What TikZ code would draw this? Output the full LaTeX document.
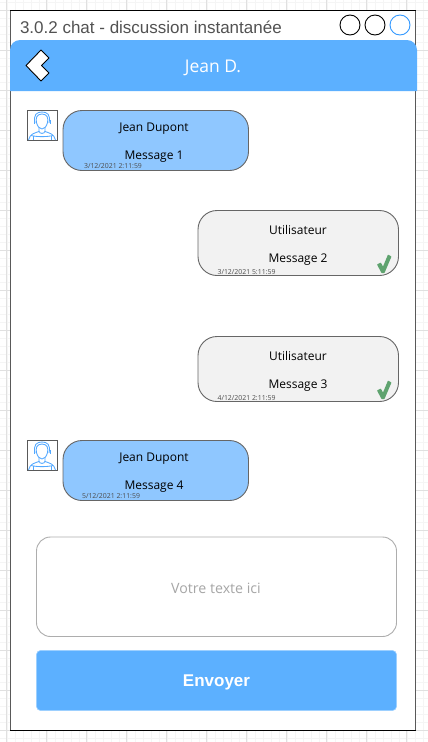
\documentclass[tikz,border=0pt]{standalone}
\usepackage{fontspec}
\setmainfont{Open Sans}
\newfontfamily\lib{Liberation Sans}
\definecolor{hdr}{HTML}{5CB0FF}
\definecolor{bub}{HTML}{8FC7FF}
\definecolor{gbub}{HTML}{F2F2F2}
\definecolor{icon}{HTML}{3399FF}
\definecolor{chk}{HTML}{5FA36F}
\newcommand{\fsz}[1]{\fontsize{#1}{#1}\selectfont}
\tikzset{
 x=1pt,y=-1pt,
 px/.style={inner sep=0pt,outer sep=0pt},
 bubble/.style={draw=black!60,line width=0.9pt,rounded corners=19pt},
 msg/.style={px,anchor=base,text=black,font=\fsz{12}},
 stamp/.style={px,anchor=base,text=black!70,font=\fsz{6.9}},
 ring/.style={draw=#1,line width=0.9pt,circle,minimum size=20pt,px},
 avatarbox/.style={draw=black!65,fill=white,line width=0.9pt},
 iconline/.style={draw=icon!85,line width=0.85pt,fill=none},
}
\newcommand{\avatar}[2]{%
 \begin{scope}[shift={(#1,#2)}]
  \path[avatarbox] (0,0) rectangle (30,30);
  \draw[iconline] (15,3.5) .. controls (9.5,3.5) and (8.5,8) .. (9.5,12) .. controls (10.5,16) and (12.5,18.5) .. (15,18.5) .. controls (17.5,18.5) and (19.5,16) .. (20.5,12) .. controls (21.5,8) and (20.5,3.5) .. (15,3.5);
  \draw[iconline] (8,12.5) .. controls (6,4) and (10,1.5) .. (15,1.5) .. controls (20,1.5) and (24,4) .. (22,12.5);
  \draw[iconline] (7,9.5) -- (7,13.5) (23,9.5) -- (23,13.5);
  \draw[iconline] (12,17.5) -- (12,21) .. controls (8,22.5) and (3,23) .. (1.5,29.5);
  \draw[iconline] (18,17.5) -- (18,21) .. controls (22,22.5) and (27,23) .. (28.5,29.5);
  \draw[iconline] (12,21) .. controls (13,23.5) and (17,23.5) .. (18,21);
  \draw[iconline] (6,25) -- (6,29.5) (24,25) -- (24,29.5);
  \draw[iconline] (4,25) .. controls (10,26.5) and (20,26.5) .. (26,25);
 \end{scope}}
\newcommand{\tickmark}[1]{%
 \fill[chk,shift={(0,#1)},rounded corners=0.5pt] (377,264.5) -- (380.8,262.5) -- (383,266.5) -- (388,254.5) -- (391.5,256.5) -- (384.5,273) -- (381.5,273) -- cycle;}
\begin{document}
\begin{tikzpicture}
\useasboundingbox (0,0) rectangle (428,742);
\fill[white] (0,0) rectangle (428,742);
% background grid
\foreach \i in {0,...,53} \draw[black!4,line width=0.4pt] (6.7+\i*8,0) -- (6.7+\i*8,742);
\foreach \i in {0,...,93} \draw[black!4,line width=0.4pt] (0,2+\i*8) -- (428,2+\i*8);
\foreach \i in {0,...,10} \draw[black!12,line width=0.5pt] (6.7+\i*40,0) -- (6.7+\i*40,742);
\foreach \i in {0,...,18} \draw[black!12,line width=0.5pt] (0,10+\i*40) -- (428,10+\i*40);
% frame
\path[fill=white] (10.5,10.5) rectangle (415,730);
\draw[black!65,line width=1pt] (10.5,10.5) -- (10.5,730) (415,10.5) -- (415,730);
\draw[black,line width=1pt] (10,10.5) -- (415.5,10.5) (10,730) -- (415.5,730);
\node[px,anchor=base west,text=black!68,font=\lib\fsz{17}] (title) at (20,33.5) {3.0.2 chat - discussion instantanée};
\node[ring=black] (c1) at (350,25) {};
\node[ring=black] (c2) at (375,25) {};
\node[ring=icon] (c3) at (400,25) {};
% header
\fill[hdr] (10,91) [rounded corners=10pt] -- (10,40) -- (417,40) [sharp corners] -- (417,91) -- cycle;
\node[px,anchor=base,text=white,font=\fsz{17.5}] (head) at (213,72.5) {Jean D.};
\draw[fill=white,draw=black,line width=0.9pt,line join=round] (26,65.5) -- (41,50) -- (49,58) -- (41.5,65.5) -- (49,73) -- (41,81) -- cycle;
% avatars
\avatar{27}{110.5}
\avatar{27}{440.5}
% bubbles
\path[bubble,fill=bub] (63,110.5) rectangle (248.5,170.5);
\node[msg] (m1a) at (154,131.5) {Jean Dupont};
\node[msg] (m1b) at (154,159.5) {Message 1};
\node[stamp] (m1c) at (113,168) {3/12/2021 2:11:59};
\path[bubble,fill=gbub] (198,210.5) rectangle (398.5,275.5);
\node[msg] (m2a) at (298,234.5) {Utilisateur};
\node[msg] (m2b) at (298,262.5) {Message 2};
\node[stamp] (m2c) at (246.5,274) {3/12/2021 5:11:59};
\tickmark{0}
\path[bubble,fill=gbub] (198,336.5) rectangle (398.5,401.5);
\node[msg] (m3a) at (298,360.5) {Utilisateur};
\node[msg] (m3b) at (298,388.5) {Message 3};
\node[stamp] (m3c) at (246.5,400) {4/12/2021 2:11:59};
\tickmark{126}
\path[bubble,fill=bub] (63,440.5) rectangle (248.5,500.5);
\node[msg] (m4a) at (154,461.5) {Jean Dupont};
\node[msg] (m4b) at (154,489.5) {Message 4};
\node[stamp] (m4c) at (111,498) {5/12/2021 2:11:59};
% input
\draw[draw=black!32,line width=0.9pt,fill=white,rounded corners=14pt] (36.5,537) rectangle (396.5,636.5);
\node[px,anchor=base,text=black!35,font=\fsz{14.2}] (inp) at (216,593) {Votre texte ici};
% button
\draw[draw=hdr!60,line width=0.6pt,fill=hdr,rounded corners=4pt] (36.5,650.5) rectangle (396.5,710.5);
\node[px,anchor=base,text=white,font=\lib\bfseries\fsz{17}] (btn) at (216.5,686) {Envoyer};
\end{tikzpicture}
\end{document}
